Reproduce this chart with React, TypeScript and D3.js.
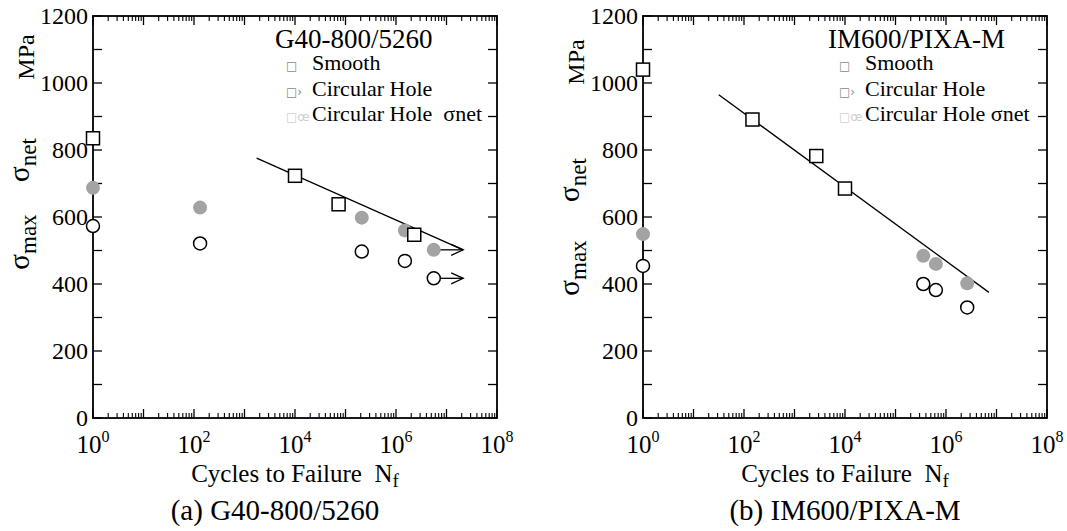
import React from "react";
import * as d3 from "d3";

// ---------- Data ----------
// Panel (a) G40-800/5260
const aSmoothN = [1, 1e4, 7.3e4, 2.3e6];
const aSmoothS = [835, 723, 638, 547];
const aNetN = [1, 132, 2.1e5, 1.5e6, 5.6e6];
const aNetS = [687, 628, 598, 560, 502];
const aMaxN = [1, 132, 2.1e5, 1.5e6, 5.6e6];
const aMaxS = [573, 521, 497, 469, 417];
const aFitN = [1.74e3, 2.14e7];
const aFitS = [776, 502];
// run-outs (arrows): start N, end N, stress
const aArrowFromN = [5.6e6, 5.6e6];
const aArrowToN = [2.14e7, 2.14e7];
const aArrowS = [502, 417];

// Panel (b) IM600/PIXA-M
const bSmoothN = [1, 147, 2700, 1e4];
const bSmoothS = [1040, 891, 782, 685];
const bNetN = [1, 3.55e5, 6.3e5, 2.63e6];
const bNetS = [549, 484, 460, 402];
const bMaxN = [1, 3.55e5, 6.3e5, 2.63e6];
const bMaxS = [454, 400, 382, 330];
const bFitN = [31.6, 7.08e6];
const bFitS = [965, 375];

const xTickExps = [0, 2, 4, 6, 8];
const yTicks = [0, 200, 400, 600, 800, 1000, 1200];
const legendLabels = ["Smooth", "Circular Hole", "Circular Hole"];
const legendGlyphs = ["\u25A1", "\u25A1\u203A", "\u25A1\u0153"];

const FONT = "'Liberation Serif', 'Times New Roman', serif";
const W = 404;
const H = 402;

type PanelProps = {
  left: number;
  top: number;
  smoothN: number[];
  smoothS: number[];
  netN: number[];
  netS: number[];
  maxN: number[];
  maxS: number[];
  fitN: number[];
  fitS: number[];
  arrowFromN?: number[];
  arrowToN?: number[];
  arrowS?: number[];
  title: string;
  titleX: number;
  legX: number;
  caption: string;
  captionX: number;
  yLab: number[]; // centers for MPa, net, max
  netGap: string;
};

function Panel(p: PanelProps) {
  const x = d3.scaleLog().domain([1, 1e8]).range([0, W]);
  const y = d3.scaleLinear().domain([0, 1200]).range([H, 0]);

  const minorX: number[] = [];
  for (let e = 0; e < 8; e++) {
    for (let k = 2; k <= 9; k++) minorX.push(k * Math.pow(10, e));
  }
  const majorX = d3.range(0, 9).map((e) => Math.pow(10, e));
  const yTickAll = d3.range(0, 1201, 100);

  const line = d3
    .line<number>()
    .x((_, i) => x(p.fitN[i]))
    .y((_, i) => y(p.fitS[i]));

  const sq = 13;
  const r = 6.5;
  const legY = [70, 96, 121];

  return (
    <g>
      <g transform={`translate(${p.left},${p.top})`}>
        {/* ticks */}
        {majorX.map((v, i) => (
          <g key={"mx" + i}>
            <line x1={x(v)} x2={x(v)} y1={H} y2={H - 9} stroke="#000" strokeWidth={1.3} />
            <line x1={x(v)} x2={x(v)} y1={0} y2={9} stroke="#000" strokeWidth={1.3} />
          </g>
        ))}
        {minorX.map((v, i) => (
          <g key={"nx" + i}>
            <line x1={x(v)} x2={x(v)} y1={H} y2={H - 5} stroke="#000" strokeWidth={1.1} />
            <line x1={x(v)} x2={x(v)} y1={0} y2={5} stroke="#000" strokeWidth={1.1} />
          </g>
        ))}
        {yTickAll.map((v, i) => (
          <g key={"yt" + i}>
            <line x1={0} x2={9} y1={y(v)} y2={y(v)} stroke="#000" strokeWidth={1.3} />
            <line x1={W} x2={W - 9} y1={y(v)} y2={y(v)} stroke="#000" strokeWidth={1.3} />
          </g>
        ))}
        <rect x={0} y={0} width={W} height={H} fill="none" stroke="#000" strokeWidth={1.8} />

        {/* tick labels */}
        {yTicks.map((v) => (
          <text
            key={"yl" + v}
            x={-5}
            y={y(v) + 8}
            textAnchor="end"
            fontFamily={FONT}
            fontSize={24}
          >
            {v}
          </text>
        ))}
        {xTickExps.map((e) => (
          <text
            key={"xl" + e}
            x={x(Math.pow(10, e))}
            y={H + 35}
            textAnchor="middle"
            fontFamily={FONT}
            fontSize={25}
          >
            10
            <tspan fontSize={16} dy={-11}>
              {e}
            </tspan>
          </text>
        ))}

        {/* fit line */}
        <path d={line(p.fitN) || ""} fill="none" stroke="#000" strokeWidth={1.3} />

        {/* run-out arrows */}
        {p.arrowS &&
          p.arrowS.map((s, i) => {
            const x0 = x(p.arrowFromN![i]);
            const x1 = x(p.arrowToN![i]);
            const yy = y(s);
            return (
              <g key={"ar" + i} stroke="#000" strokeWidth={1.3} fill="none">
                <line x1={x0} x2={x1} y1={yy} y2={yy} />
                <polyline points={`${x1 - 12},${yy - 5.5} ${x1},${yy} ${x1 - 12},${yy + 5.5}`} />
              </g>
            );
          })}

        {/* markers */}
        {p.netN.map((n, i) => (
          <circle key={"net" + i} cx={x(n)} cy={y(p.netS[i])} r={r + 0.5} fill="#a3a3a3" />
        ))}
        {p.maxN.map((n, i) => (
          <circle
            key={"max" + i}
            cx={x(n)}
            cy={y(p.maxS[i])}
            r={r}
            fill="#fff"
            stroke="#000"
            strokeWidth={1.5}
          />
        ))}
        {p.smoothN.map((n, i) => (
          <rect
            key={"sm" + i}
            x={x(n) - sq / 2}
            y={y(p.smoothS[i]) - sq / 2}
            width={sq}
            height={sq}
            fill="#fff"
            stroke="#000"
            strokeWidth={1.5}
          />
        ))}
      </g>

      {/* legend */}
      <text x={p.titleX} y={48} fontFamily={FONT} fontSize={27}>
        {p.title}
      </text>
      {legendLabels.map((lab, i) => (
        <g key={"lg" + i}>
          <text
            x={p.legX - 26}
            y={legY[i]}
            fontFamily="'DejaVu Sans', sans-serif"
            fontSize={12}
            fill={i === 2 ? "#cfcfcf" : "#8a8a8a"}
          >
            {legendGlyphs[i]}
          </text>
          <text x={p.legX} y={legY[i]} fontFamily={FONT} fontSize={22}>
            {lab}
            {i === 2 ? <tspan>{p.netGap}σnet</tspan> : null}
          </text>
        </g>
      ))}

      {/* y axis title */}
      <text
        transform={`translate(${p.left - 59},${p.yLab[0]}) rotate(-90)`}
        textAnchor="middle"
        fontFamily={FONT}
        fontSize={24}
      >
        MPa
      </text>
      <text
        transform={`translate(${p.left - 64},${p.yLab[1]}) rotate(-90)`}
        textAnchor="middle"
        fontFamily={FONT}
      >
        <tspan fontSize={29}>σ</tspan>
        <tspan fontSize={23} dy={7}>
          net
        </tspan>
      </text>
      <text
        transform={`translate(${p.left - 64},${p.yLab[2]}) rotate(-90)`}
        textAnchor="middle"
        fontFamily={FONT}
      >
        <tspan fontSize={29}>σ</tspan>
        <tspan fontSize={23} dy={7}>
          max
        </tspan>
      </text>

      {/* x axis title */}
      <text
        x={p.left + W / 2}
        y={482}
        textAnchor="middle"
        fontFamily={FONT}
        fontSize={25}
      >
        Cycles to Failure{"\u00A0\u00A0"}N
        <tspan fontSize={19} dy={5}>
          f
        </tspan>
      </text>

      {/* caption */}
      <text x={p.captionX} y={520} textAnchor="middle" fontFamily={FONT} fontSize={29}>
        {p.caption}
      </text>
    </g>
  );
}

export default function App() {
  return (
    <svg width={1067} height={531} style={{ position: "absolute", left: 0, top: 0, background: "#fff" }}>
      <rect x={0} y={0} width={1067} height={531} fill="#fff" />
      <Panel
        left={93}
        top={16}
        smoothN={aSmoothN}
        smoothS={aSmoothS}
        netN={aNetN}
        netS={aNetS}
        maxN={aMaxN}
        maxS={aMaxS}
        fitN={aFitN}
        fitS={aFitS}
        arrowFromN={aArrowFromN}
        arrowToN={aArrowToN}
        arrowS={aArrowS}
        title="G40-800/5260"
        titleX={275}
        legX={312}
        caption="(a) G40-800/5260"
        captionX={275}
        yLab={[57, 160, 242]}
        netGap={"\u00A0\u00A0"}
      />
      <Panel
        left={643}
        top={16}
        smoothN={bSmoothN}
        smoothS={bSmoothS}
        netN={bNetN}
        netS={bNetS}
        maxN={bMaxN}
        maxS={bMaxS}
        fitN={bFitN}
        fitS={bFitS}
        title="IM600/PIXA-M"
        titleX={828}
        legX={865}
        caption="(b) IM600/PIXA-M"
        captionX={845}
        yLab={[62, 180, 268]}
        netGap={" "}
      />
    </svg>
  );
}
